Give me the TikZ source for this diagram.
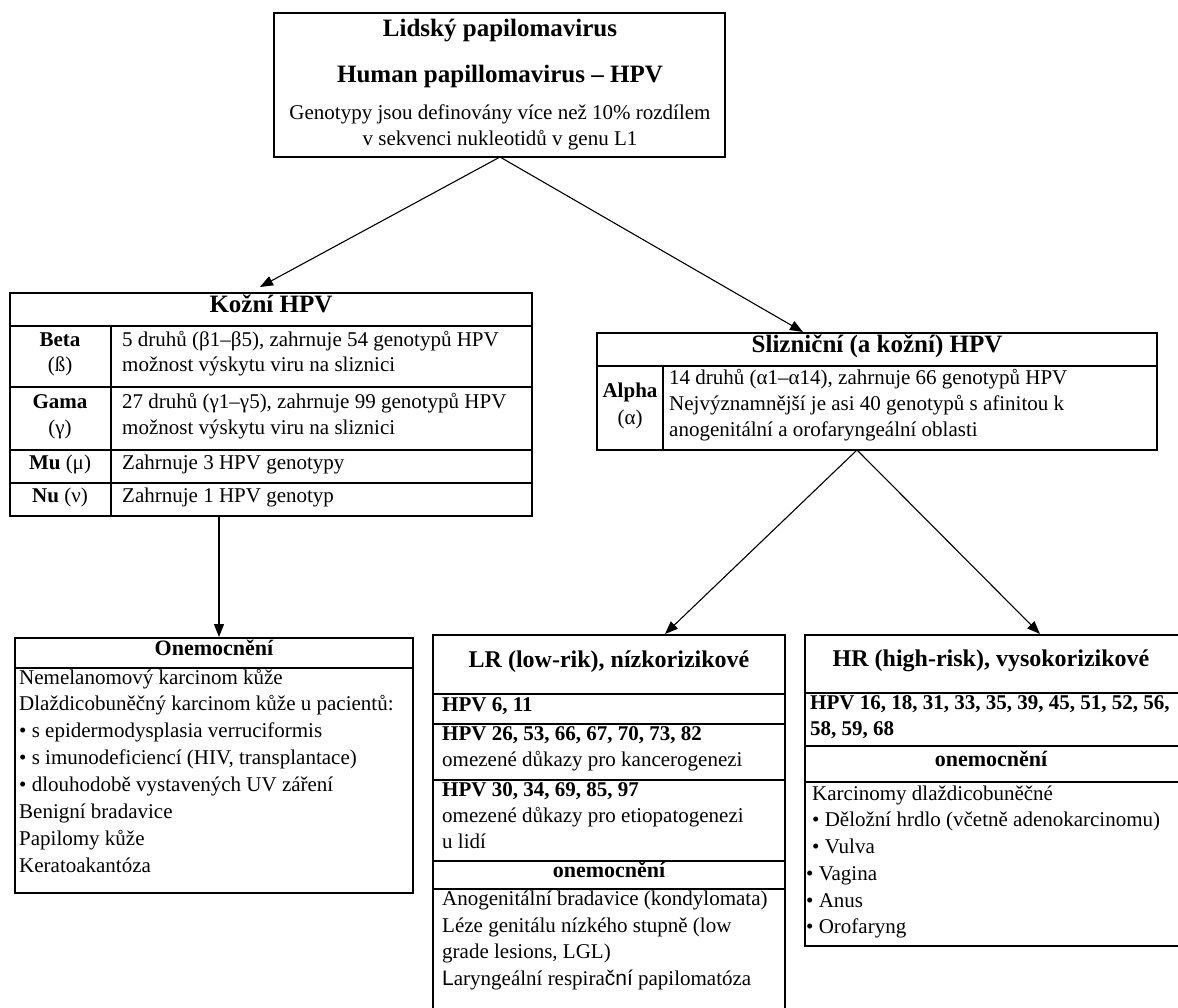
\documentclass[tikz,border=0pt]{standalone}
\usepackage{fontspec}
\setmainfont{Liberation Serif}
\newfontfamily\sansf{Liberation Sans}
\usetikzlibrary{arrows.meta}
\begin{document}
\begin{tikzpicture}[x=1pt,y=-1pt,
  rule/.style={line width=1.8pt},
  conn/.style={line width=1.1pt},
  arr/.style={conn, -{Triangle[length=13pt,width=10pt]}},
  tx/.style={inner sep=0pt, anchor=mid west, font=\fontsize{21}{25}\selectfont},
  txb/.style={inner sep=0pt, anchor=mid west, font=\fontsize{21}{25}\selectfont\bfseries},
  txc/.style={inner sep=0pt, anchor=mid, font=\fontsize{21}{25}\selectfont},
  txcb/.style={inner sep=0pt, anchor=mid, font=\fontsize{21}{25}\selectfont\bfseries},
  head/.style={inner sep=0pt, anchor=mid, font=\fontsize{25}{30}\selectfont\bfseries},
  sub/.style={inner sep=0pt, anchor=mid, font=\fontsize{22}{26}\selectfont\bfseries},
]
\useasboundingbox (0,0) rectangle (1178,1008);
\clip (0,0) rectangle (1178,1008);

% ---------- top box
\draw[rule] (274,13) rectangle (725,157);
\node[head] (t1) at (500,34) {Lidský papilomavirus};
\node[head] (t2) at (500,80) {Human papillomavirus – HPV};
\node[txc] (t3) at (500,117) {Genotypy jsou definovány více než 10\% rozdílem};
\node[txc] (t4) at (500,143) {v sekvenci nukleotidů v genu L1};

% ---------- Kozni table
\draw[rule] (10,293) rectangle (532,516);
\draw[rule] (10,326) -- (532,326);
\draw[rule] (10,387) -- (532,387);
\draw[rule] (10,450) -- (532,450);
\draw[rule] (10,483) -- (532,483);
\draw[rule] (111,326) -- (111,516);
\node[head] (kh) at (271,310) {Kožní HPV};
\node[txcb] (kb1) at (60,344) {Beta};
\node[txc] (kb2) at (60,369) {(ß)};
\node[tx] (kb3) at (122,344) {5 druhů (β1–β5), zahrnuje 54 genotypů HPV};
\node[tx] (kb4) at (122,369) {možnost výskytu viru na sliznici};
\node[txcb] (kg1) at (60,406) {Gama};
\node[txc] (kg2) at (60,432) {(γ)};
\node[tx] (kg3) at (122,406) {27 druhů (γ1–γ5), zahrnuje 99 genotypů HPV};
\node[tx] (kg4) at (122,432) {možnost výskytu viru na sliznici};
\node[txc] (km1) at (60,467) {\textbf{Mu} (μ)};
\node[tx] (km2) at (122,467) {Zahrnuje 3 HPV genotypy};
\node[txc] (kn1) at (60,500) {\textbf{Nu} (ν)};
\node[tx] (kn2) at (122,500) {Zahrnuje 1 HPV genotyp};

% ---------- Sliznicni table
\draw[rule] (597,333) rectangle (1157,450);
\draw[rule] (597,366) -- (1157,366);
\draw[rule] (663,366) -- (663,450);
\node[head] (sh) at (877,350) {Slizniční (a kožní) HPV};
\node[txcb] (sa1) at (630,395) {Alpha};
\node[txc] (sa2) at (630,422) {(α)};
\node[tx] (sa3) at (669,382) {14 druhů (α1–α14), zahrnuje 66 genotypů HPV};
\node[tx] (sa4) at (669,408) {Nejvýznamnější je asi 40 genotypů s afinitou k};
\node[tx] (sa5) at (669,434) {anogenitální a orofaryngeální oblasti};

% ---------- Onemocneni (kozni)
\draw[rule] (15,638) rectangle (413,893);
\draw[rule] (15,668) -- (413,668);
\node[sub] (oh) at (214,653) {Onemocnění};
\node[tx] (o1) at (19,682) {Nemelanomový karcinom kůže};
\node[tx] (o2) at (19,708) {Dlaždicobuněčný karcinom kůže u pacientů:};
\node[tx] (o3) at (19,735) {• s epidermodysplasia verruciformis};
\node[tx] (o4) at (19,762) {• s imunodeficiencí (HIV, transplantace)};
\node[tx] (o5) at (19,789) {• dlouhodobě vystavených UV záření};
\node[tx] (o6) at (19,816) {Benigní bradavice};
\node[tx] (o7) at (19,843) {Papilomy kůže};
\node[tx] (o8) at (19,870) {Keratoakantóza};

% ---------- LR
\draw[rule] (433,1012) -- (433,635) -- (785,635) -- (785,1012);
\foreach \yy in {694,724,780,861,889} {\draw[rule] (433,\yy) -- (785,\yy);}
\node[head, font=\fontsize{24}{29}\selectfont\bfseries] (lh) at (609,665) {LR (low-rik), nízkorizikové};
\node[txb] (l1) at (442,709) {HPV 6, 11};
\node[txb] (l2) at (442,738) {HPV 26, 53, 66, 67, 70, 73, 82};
\node[tx] (l3) at (442,764) {omezené důkazy pro kancerogenezi};
\node[txb] (l4) at (442,794) {HPV 30, 34, 69, 85, 97};
\node[tx] (l5) at (442,820) {omezené důkazy pro etiopatogenezi};
\node[tx] (l6) at (442,846) {u lidí};
\node[sub] (lo) at (609,875) {onemocnění};
\node[tx] (l7) at (442,903) {Anogenitální bradavice (kondylomata)};
\node[tx] (l8) at (442,930) {Léze genitálu nízkého stupně (low};
\node[tx] (l9) at (442,956) {grade lesions, LGL)};
\node[tx] (l10) at (442,983) {{\sansf L}aryngeální respira{\sansf ční} papilomatóza};

% ---------- HR
\draw[rule] (1182,635) -- (805,635) -- (805,946) -- (1182,946);
\foreach \yy in {693,746,782} {\draw[rule] (805,\yy) -- (1182,\yy);}
\node[head, font=\fontsize{24}{29}\selectfont\bfseries] (hh) at (991,664) {HR (high-risk), vysokorizikové};
\node[txb] (h1) at (810,707) {HPV 16, 18, 31, 33, 35, 39, 45, 51, 52, 56,};
\node[txb] (h2) at (810,733) {58, 59, 68};
\node[sub] (ho) at (991,764) {onemocnění};
\node[tx] (h3) at (812,798) {Karcinomy dlaždicobuněčné};
\node[tx] (h4) at (812,824) {• Děložní hrdlo (včetně adenokarcinomu)};
\node[tx] (h5) at (812,851) {• Vulva};
\node[tx] (h6) at (806,878) {• Vagina};
\node[tx] (h7) at (806,905) {• Anus};
\node[tx] (h8) at (806,931) {• Orofaryng};

% ---------- connectors
\coordinate (topS) at (500,157);
\coordinate (kozN) at (260,287);
\coordinate (slizN) at (803,332);
\coordinate (kozS) at (219,516);
\coordinate (oneN) at (219,637);
\coordinate (slizS) at (857,450);
\coordinate (lrN) at (665,634);
\coordinate (hrN) at (1040,634);
\draw[arr] (topS) -- (kozN);
\draw[arr] (topS) -- (slizN);
\draw[arr] (kozS) -- (oneN);
\draw[arr] (slizS) -- (lrN);
\draw[arr] (slizS) -- (hrN);
\end{tikzpicture}
\end{document}
